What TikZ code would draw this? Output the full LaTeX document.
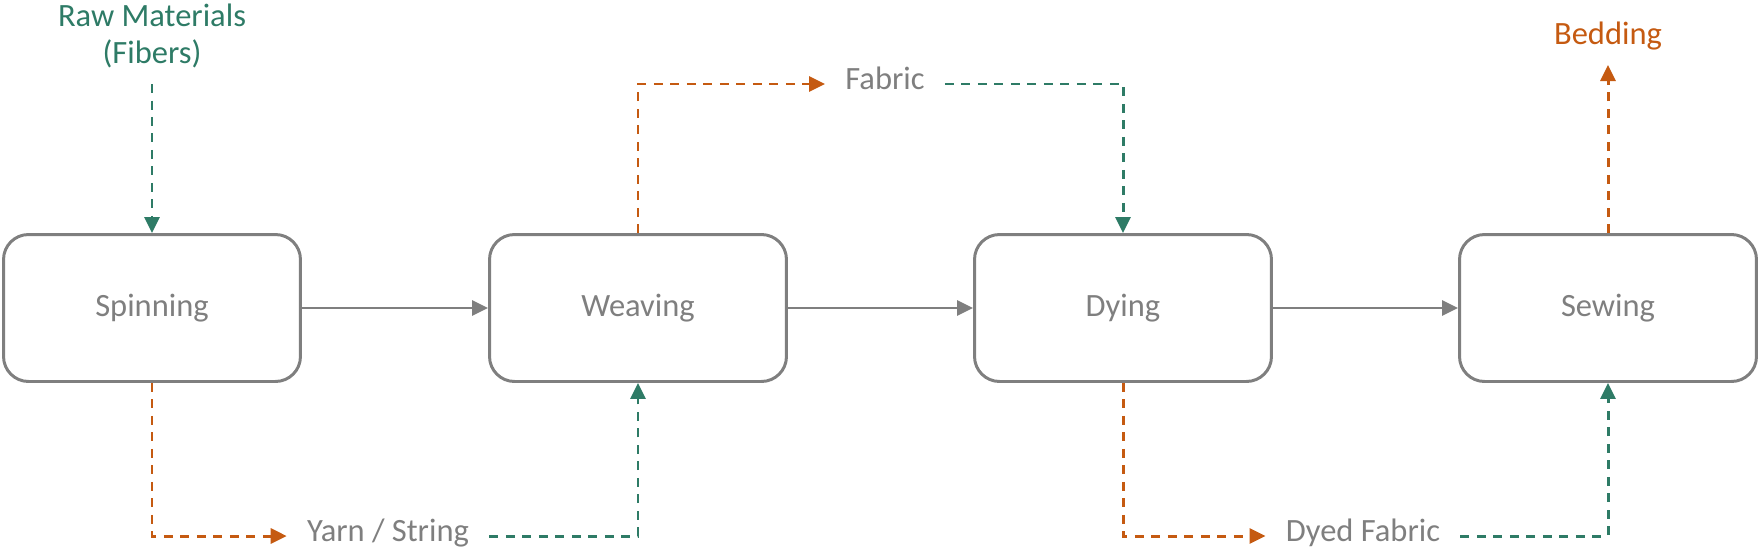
\documentclass[tikz,border=0pt]{standalone}
\usepackage{fontspec}
\setmainfont{Carlito}
\usetikzlibrary{arrows.meta}
\definecolor{boxgray}{HTML}{7F7F7F}
\definecolor{flowgreen}{HTML}{2E7B66}
\definecolor{floworange}{HTML}{C55A11}

\begin{document}
\begin{tikzpicture}[x=0.02cm, y=-0.02cm,
  every node/.style={font=\fontsize{18.5}{21}\selectfont},
  stage/.style={draw=boxgray, line width=1.7pt, rounded corners=0.5cm,
    minimum width=5.94cm, minimum height=2.94cm, text=boxgray},
  item/.style={text=boxgray, inner xsep=0.4cm, text height=0.6em, text depth=0pt},
  main/.style={boxgray, line width=1.6pt, -{Triangle[length=0.32cm,width=0.3cm]}},
  flow/.style={line width=1.7pt, dash pattern=on 0.18cm off 0.15cm,
    -{Triangle[length=0.32cm,width=0.3cm]}}]
\useasboundingbox (0,0) rectangle (1759,552);
\node[stage] (spin) at (152,308) {Spinning};
\node[stage] (weave) at (638,308) {Weaving};
\node[stage] (dye) at (1123,308) {Dying};
\node[stage] (sew) at (1608,308) {Sewing};
\node[item] (yarn) at (388,536) {Yarn / String};
\node[item] (fabric) at (885,84) {Fabric};
\node[item] (dyed) at (1363,536) {Dyed Fabric};
\node[text=flowgreen, align=center, anchor=south, inner ysep=0.32cm] (raw) at (152,84) {Raw Materials\\(Fibers)};
\node[text=floworange, anchor=south, inner ysep=0.3cm] (bed) at (1608,65) {Bedding};
\draw[main] (spin) -- (weave);
\draw[main] (weave) -- (dye);
\draw[main] (dye) -- (sew);
\draw[flow, flowgreen] (raw.south) -- (spin.north);
\draw[flow, floworange] (spin.south) |- (yarn.west);
\draw[flow, flowgreen] (yarn.east) -| (weave.south);
\draw[flow, floworange] (weave.north) |- (fabric.west);
\draw[flow, flowgreen] (fabric.east) -| (dye.north);
\draw[flow, floworange] (dye.south) |- (dyed.west);
\draw[flow, flowgreen] (dyed.east) -| (sew.south);
\draw[flow, floworange] (sew.north) -- (bed.south);
\end{tikzpicture}
\end{document}
